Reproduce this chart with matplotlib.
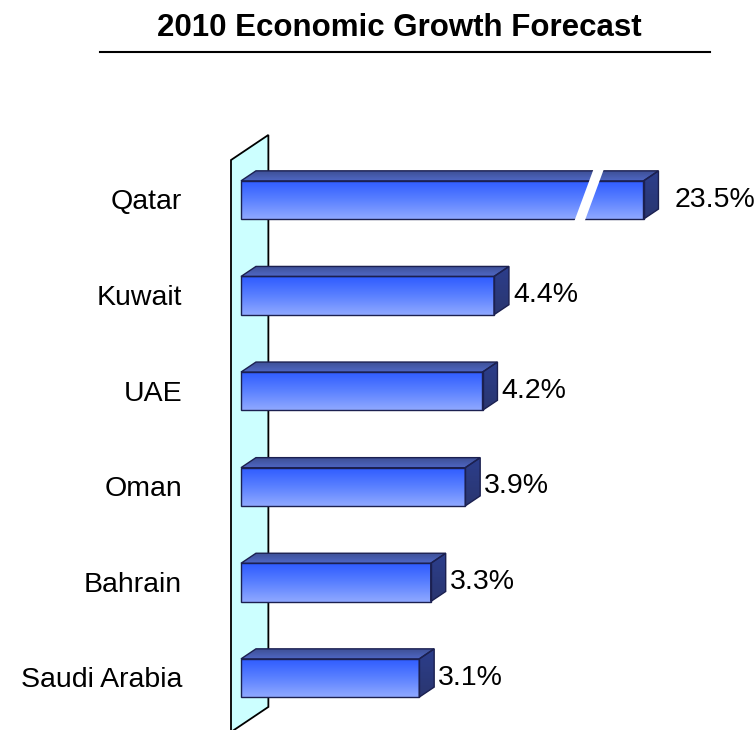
import numpy as np
import matplotlib
matplotlib.use("Agg")
import matplotlib.pyplot as plt
from matplotlib.colors import LinearSegmentedColormap
from matplotlib.patches import Polygon, Rectangle
from matplotlib.lines import Line2D

plt.rcParams['font.family'] = ['Liberation Sans', 'DejaVu Sans']

# ---------------------------------------------------------------
# DATA
# ---------------------------------------------------------------
countries = ['Qatar', 'Kuwait', 'UAE', 'Oman', 'Bahrain', 'Saudi Arabia']
growth = [23.5, 4.4, 4.2, 3.9, 3.3, 3.1]
axis_cap = 7.0          # value axis is broken above this (Qatar bar)
title = '2010 Economic Growth Forecast'

# ---------------------------------------------------------------
# LAYOUT (pseudo 3D bars, Excel style)
# ---------------------------------------------------------------
W, H = 755, 730
fig = plt.figure(figsize=(W / 100, H / 100), dpi=100)
ax = fig.add_axes([0, 0, 1, 1])
ax.set_autoscale_on(False)
ax.axis('off')

px_per_unit = 57.5      # horizontal scale
px_per_cat = 95.6       # spacing between categories
x0_px, y0_px = 241, 200

half = 0.2              # half bar thickness (category units)
dx, dy = 0.26, 0.105    # depth offset of the 3D faces
edge = '#1B2050'

front_cmap = LinearSegmentedColormap.from_list('front', ['#2E5BFF', '#5A80FF', '#8FA8FF'])
top_cmap = LinearSegmentedColormap.from_list('top', ['#3C4E92', '#4F67C4'])
side_cmap = LinearSegmentedColormap.from_list('side', ['#2C3E8C', '#2A3670'])
grad = np.linspace(0, 1, 64).reshape(-1, 1)

n = len(countries)

# back wall
wall_top, wall_bot = -half - 0.218, n - 1 + 0.565
wall_x, wall_d = -0.174, 2.5
wall = Polygon([(wall_x, wall_top), (wall_x + wall_d * dx, wall_top - wall_d * dy),
                (wall_x + wall_d * dx, wall_bot - wall_d * dy), (wall_x, wall_bot)],
               closed=True, facecolor='#CCFFFF', edgecolor='black', lw=1.3, zorder=1)
ax.add_patch(wall)

for i, (name, val) in enumerate(zip(countries, growth)):
    w = min(val, axis_cap)
    top_y, bot_y = i - half, i + half

    # front face
    ax.imshow(grad, cmap=front_cmap, extent=(0, w, bot_y, top_y), aspect='auto',
              interpolation='bilinear', zorder=3)
    ax.add_patch(Rectangle((0, top_y), w, 2 * half, fill=False, edgecolor=edge,
                           lw=1, zorder=4))

    # top face
    top = Polygon([(0, top_y), (dx, top_y - dy), (w + dx, top_y - dy), (w, top_y)],
                  closed=True, facecolor='none', edgecolor=edge, lw=1, zorder=4)
    ax.add_patch(top)
    im = ax.imshow(grad, cmap=top_cmap, extent=(0, w + dx, top_y, top_y - dy),
                   aspect='auto', interpolation='bilinear', zorder=3)
    im.set_clip_path(top)

    # side face
    side = Polygon([(w, top_y), (w + dx, top_y - dy), (w + dx, bot_y - dy), (w, bot_y)],
                   closed=True, facecolor='none', edgecolor=edge, lw=1, zorder=4)
    ax.add_patch(side)
    im = ax.imshow(grad, cmap=side_cmap, extent=(w, w + dx, bot_y, top_y - dy),
                   aspect='auto', interpolation='bilinear', zorder=3)
    im.set_clip_path(side)

    # axis break slash on the truncated bar
    if val > axis_cap:
        bx = axis_cap - 1.1
        slope = 0.31 / (bot_y - (top_y - dy))
        y_lo, y_hi = bot_y + 0.03, top_y - dy - 0.03
        xc_lo = bx - slope * 0.03
        xc_hi = bx + slope * (y_lo - y_hi) - slope * 0.03
        sw = 0.09
        ax.add_patch(Polygon([(xc_lo - sw, y_lo), (xc_lo + sw, y_lo),
                              (xc_hi + sw, y_hi), (xc_hi - sw, y_hi)],
                             closed=True, facecolor='white', edgecolor='none', zorder=5))
        lab_off = 0.54
    else:
        lab_off = 0.33

    ax.text(w + lab_off, i + 0.068, f'{val:.1f}%', ha='left', va='baseline',
            fontsize=20.5, zorder=6)
    ax.text(-1.026, i + 0.099, name, ha='right', va='baseline', fontsize=20.5)

ax.set_xlim(-x0_px / px_per_unit, (W - x0_px) / px_per_unit)
ax.set_ylim((H - y0_px) / px_per_cat, -y0_px / px_per_cat)

fig.text(399.5 / W, 1 - 36 / H, title, ha='center', va='baseline',
         fontsize=22.5, fontweight='bold')
fig.add_artist(Line2D([100 / W, 710 / W], [1 - 52 / H, 1 - 52 / H],
                      color='black', lw=1.5))

fig.savefig('out.png', dpi=100)
plt.close(fig)
